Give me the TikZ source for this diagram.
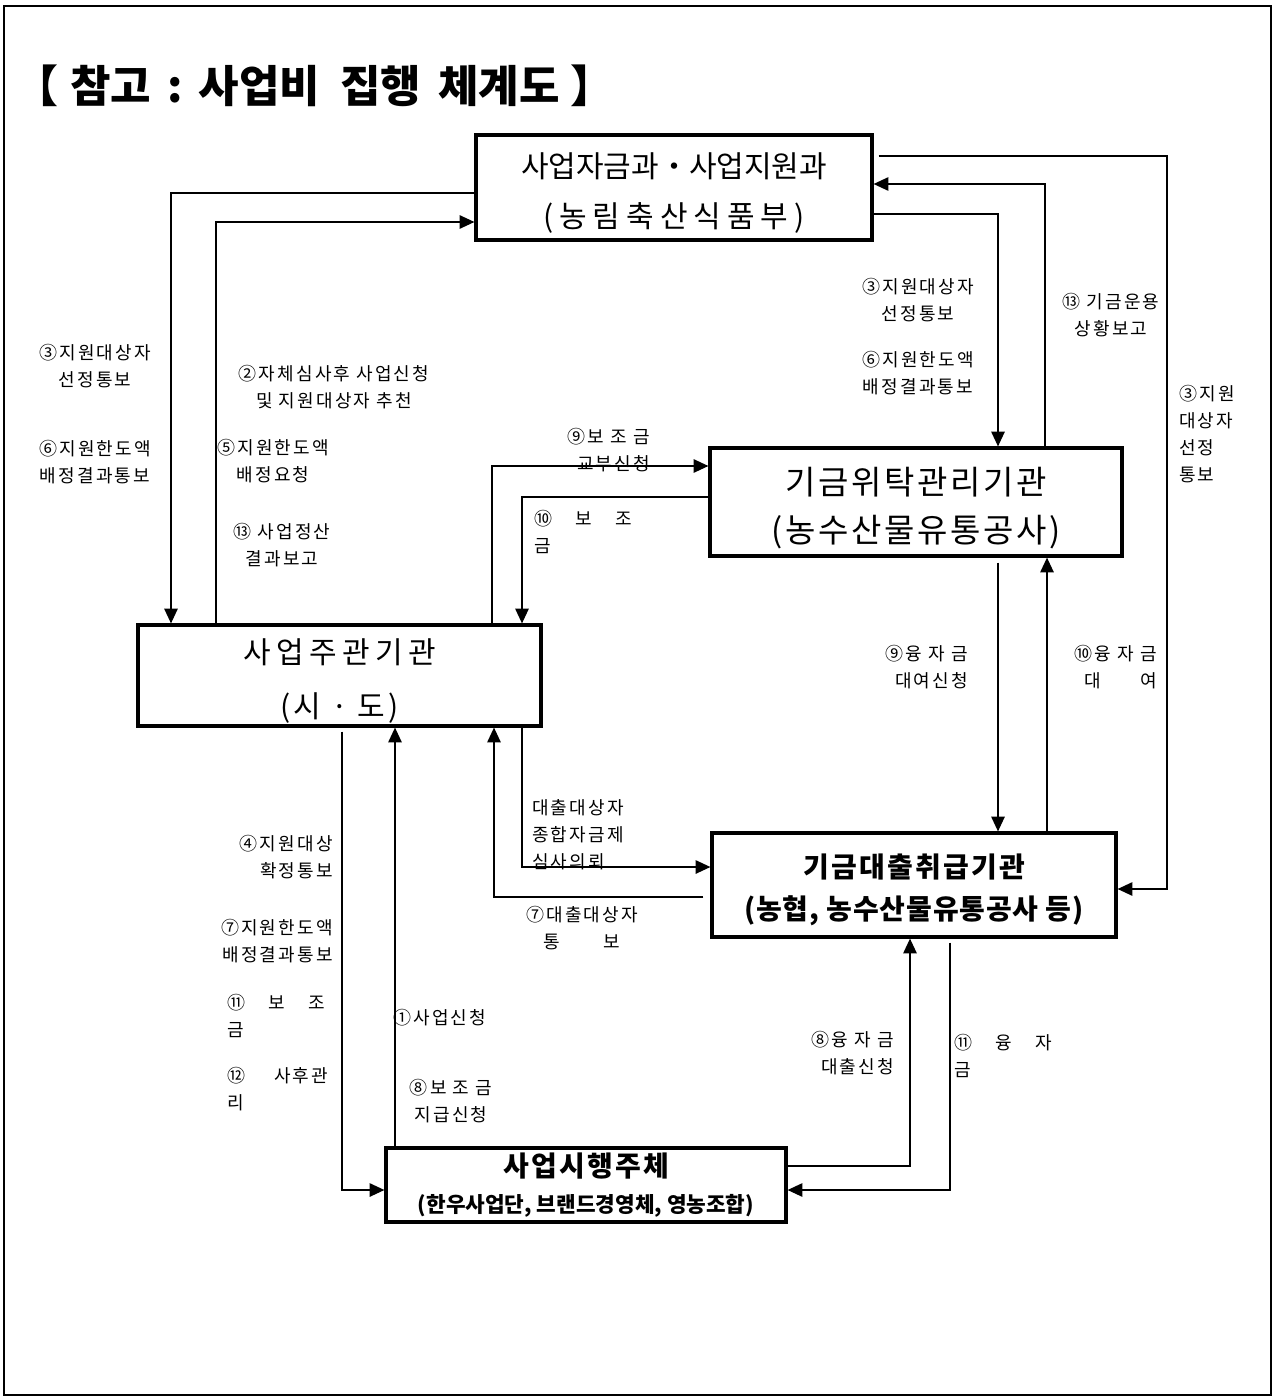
\documentclass[tikz,border=0pt]{standalone}
\usepackage{fontspec}
\setmainfont{Noto Sans CJK KR}
\usetikzlibrary{arrows.meta,calc}
\newcommand\lblfont{\fontsize{13.5pt}{20.25pt}\selectfont\addfontfeature{LetterSpace=12}}
\newcommand\ls[1]{\addfontfeature{LetterSpace=#1}}
\newcommand\tp{\rule{0pt}{1.2em}}
\begin{document}
\begin{tikzpicture}[x=0.75pt,y=-0.75pt,
  box/.style={draw,line width=2.4pt,inner sep=0pt,align=center},
  arr/.style={line width=1.1pt,-{Triangle[length=11pt,width=10pt]}},
  lbl/.style={inner sep=0pt,font=\lblfont,align=center}]
\useasboundingbox (0,0) rectangle (1275,1398);
\draw[line width=0.8pt] (4,6) rectangle (1271,1395);

% title
\node[anchor=west,inner sep=0pt,font=\bfseries\fontsize{33pt}{38pt}\selectfont] (title) at (14,86)
  {【\hspace{9pt}참고\hspace{12pt}:\hspace{12pt}사업비\hspace{15pt}집행\hspace{13pt}체계도\hspace{8pt}】};

% boxes
\node[box,minimum width=297pt,minimum height=78.75pt,font=\fontsize{22.5pt}{38pt}\selectfont] (b1) at (674,187.5)
  {\tp 사업자금과・사업지원과\\{\ls{20}(농림축산식품부)}};
\node[box,minimum width=309pt,minimum height=81pt,font=\fontsize{24.75pt}{36pt}\selectfont\ls{8}] (b2) at (916,502)
  {\tp 기금위탁관리기관\\(농수산물유통공사)};
\node[box,minimum width=302.25pt,minimum height=75.75pt,font=\fontsize{22.5pt}{40.5pt}\selectfont] (b3) at (339.5,675.5)
  {\tp{\ls{18}사업주관기관}\\{\ls{10}(시 · 도)}};
\node[box,minimum width=303pt,minimum height=78pt,font=\bfseries\fontsize{21pt}{32pt}\selectfont] (b4) at (914,885)
  {\tp{\ls{8}기금대출취급기관}\\{\ls{3}(농협, 농수산물유통공사 등)}};
\node[box,minimum width=300pt,minimum height=55.5pt,font=\bfseries\fontsize{16pt}{27pt}\selectfont] (b5) at (586,1185)
  {{\fontsize{21pt}{27pt}\selectfont\ls{8}사업시행주체}\\(한우사업단, 브랜드경영체, 영농조합)};

% labels
\node[lbl] (l3a) at (95,366) {③지원대상자\\선정통보};
\node[lbl] (l6a) at (95,462) {⑥지원한도액\\배정결과통보};
\node[lbl] (l2) at (334,387) {②자체심사후 사업신청\\및 지원대상자 추천};
\node[lbl] (l5) at (273,461) {⑤지원한도액\\배정요청};
\node[lbl] (l13a) at (282,545) {⑬ 사업정산\\결과보고};
\node[lbl,anchor=east,align=right] (l9a) at (650,450) {⑨보 조 금\\교부신청};
\node[lbl,anchor=west,align=left] (l10a) at (534,532) {⑩\hspace{1.3em}보\hspace{1.3em}조\\금};
\node[lbl] (l3b) at (918,300) {③지원대상자\\선정통보};
\node[lbl] (l6b) at (918,373) {⑥지원한도액\\배정결과통보};
\node[lbl] (l13b) at (1111,315) {⑬ 기금운용\\상황보고};
\node[lbl,anchor=west,align=left] (l3c) at (1179,434) {③지원\\대상자\\선정\\통보};
\node[lbl,anchor=east,align=right] (l9b) at (968,667) {⑨융 자 금\\대여신청};
\node[lbl,anchor=east,align=right] (l10b) at (1157,667) {⑩융 자 금\\대\hspace{2.2em}여};
\node[lbl,anchor=west,align=left] (ldc) at (532,835) {대출대상자\\종합자금제\\심사의뢰};
\node[lbl] (l7b) at (582,928) {⑦대출대상자\\통\hspace{2.4em}보};
\node[lbl,anchor=east,align=right] (l4) at (333,857) {④지원대상\\확정통보};
\node[lbl,anchor=east,align=right] (l7a) at (333,941) {⑦지원한도액\\배정결과통보};
\node[lbl,anchor=west,align=left] (l11a) at (227,1016) {⑪\hspace{1.3em}보\hspace{1.3em}조\\금};
\node[lbl,anchor=west,align=left] (l12) at (227,1089) {⑫\hspace{1.6em}사후관\\리};
\node[lbl,anchor=west] (l1) at (393,1018) {①사업신청};
\node[lbl] (l8a) at (451,1101) {⑧보 조 금\\지급신청};
\node[lbl,anchor=east,align=right] (l8b) at (894,1053) {⑧융 자 금\\대출신청};
\node[lbl,anchor=west,align=left] (l11b) at (954,1056) {⑪\hspace{1.3em}융\hspace{1.3em}자\\금};

% connectors
\draw[arr] (b1.west |- 0,193) -| (b3.north -| 171,0);
\draw[arr] (b3.north -| 216,0) |- (b1.west |- 0,222);
\draw[arr] ($(b1.east |- 0,156)+(5,0)$) -| (1167,889) -- (b4.east |- 0,889);
\draw[arr] (b2.north -| 1045,0) |- (b1.east |- 0,184);
\draw[arr] (b1.east |- 0,214) -| (b2.north -| 998,0);
\draw[arr] (b3.north -| 492,0) |- (b2.west |- 0,466);
\draw[arr] (b2.west |- 0,497) -| (b3.north -| 522,0);
\draw[arr] ($(b2.south -| 998,0)+(0,5)$) -- (b4.north -| 998,0);
\draw[arr] (b4.north -| 1047,0) -- (b2.south -| 1047,0);
\draw[arr] (b3.south -| 522,0) |- (b4.west |- 0,867);
\draw[arr] ($(b4.west |- 0,897)+(-7,0)$) -| (b3.south -| 494,0);
\draw[arr] ($(b3.south -| 342,0)+(0,4)$) |- (b5.west |- 0,1190);
\draw[arr] (b5.north -| 395,0) -- (b3.south -| 395,0);
\draw[arr] (b5.east |- 0,1166) -| (b4.south -| 910,0);
\draw[arr] ($(b4.south -| 950,0)+(0,4)$) |- (b5.east |- 0,1190);
\end{tikzpicture}
\end{document}
